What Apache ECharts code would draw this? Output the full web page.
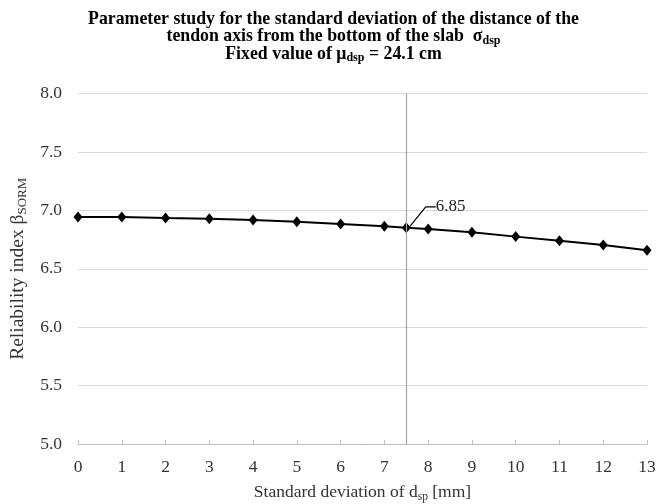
<!DOCTYPE html>
<html>
<head>
<meta charset="utf-8">
<script src="https://cdn.jsdelivr.net/npm/echarts@6/dist/echarts.min.js"></script>
<style>
  html, body { margin: 0; padding: 0; background: #fff; }
  #chart { width: 667px; height: 504px; }
</style>
</head>
<body>
<div id="chart"></div>
<script>
// Standard deviation of d_sp [mm] and the resulting reliability index
const sigmaValues = [0, 1, 2, 3, 4, 5, 6, 7, 7.5, 8, 9, 10, 11, 12, 13];
const betaValues = [6.943, 6.943, 6.934, 6.929, 6.917, 6.903, 6.883, 6.863, 6.85, 6.840, 6.812, 6.775, 6.740, 6.703, 6.658];
// Reference value marked with a vertical line and a callout
const markedSigma = 7.5;
const markedLabel = '6.85';
const yTicks = [5.0, 5.5, 6.0, 6.5, 7.0, 7.5, 8.0];

const serif = '"Liberation Serif", "Times New Roman", serif';
const chart = echarts.init(document.getElementById('chart'));

const points = sigmaValues.map((s, i) => {
  const p = { value: [s, betaValues[i]] };
  if (s === markedSigma) {
    p.label = {
      show: true,
      formatter: markedLabel,
      position: 'right',
      fontFamily: serif,
      fontSize: 17,
      color: '#222'
    };
    p.labelLine = { show: true, length2: 10, lineStyle: { color: '#000', width: 1.2 } };
  }
  return p;
});

chart.setOption({
  animation: false,
  title: {
    left: 'center',
    top: 6,
    text: '{b|Parameter study for the standard deviation of the distance of the}\n' +
          '{b|tendon axis from the bottom of the slab  σ}{s|dsp}\n' +
          '{b|Fixed value of μ}{s|dsp}{b| = 24.1 cm}',
    textStyle: {
      rich: {
        b: { fontFamily: serif, fontWeight: 'bold', fontSize: 17.8, color: '#000', lineHeight: 17.2 },
        s: { fontFamily: serif, fontWeight: 'bold', fontSize: 12, color: '#000', lineHeight: 17.2, padding: [8, 0, 0, 0] }
      }
    }
  },
  grid: { left: 78, right: 20, top: 93.5, bottom: 60, containLabel: false, outerBoundsMode: 'none' },
  xAxis: {
    type: 'value',
    min: 0,
    max: 13,
    interval: 1,
    name: '{t|Standard deviation of d}{s|sp}{t| [mm]}',
    nameLocation: 'middle',
    nameGap: 38,
    nameTextStyle: {
      rich: {
        t: { fontFamily: serif, fontSize: 17.5, color: '#333' },
        s: { fontFamily: serif, fontSize: 11.5, color: '#333', padding: [9, 0, 0, 0] }
      }
    },
    axisLine: { show: true, lineStyle: { color: '#bfbfbf', width: 1 } },
    axisTick: { show: true, inside: true, length: 4, lineStyle: { color: '#bfbfbf' } },
    splitLine: { show: false },
    axisLabel: { fontFamily: serif, fontSize: 17.5, color: '#333', margin: 14 }
  },
  yAxis: {
    type: 'value',
    min: yTicks[0],
    max: yTicks[yTicks.length - 1],
    interval: 0.5,
    name: '{t|Reliability index β}{s|SORM}',
    nameLocation: 'middle',
    nameGap: 41,
    nameRotate: 90,
    nameTextStyle: {
      rich: {
        t: { fontFamily: serif, fontSize: 19.5, color: '#333' },
        s: { fontFamily: serif, fontSize: 13, color: '#333', padding: [9, 0, 0, 0] }
      }
    },
    axisLine: { show: false },
    axisTick: { show: false },
    splitLine: { lineStyle: { color: '#d9d9d9', width: 1 } },
    axisLabel: {
      fontFamily: serif, fontSize: 17.5, color: '#333', margin: 16,
      formatter: v => v.toFixed(1)
    }
  },
  series: [{
    type: 'line',
    data: points,
    symbol: 'diamond',
    symbolSize: [9, 11],
    itemStyle: { color: '#000' },
    lineStyle: { color: '#000', width: 2 },
    labelLayout: { dx: 20, dy: -21 },
    markLine: {
      silent: true,
      symbol: 'none',
      label: { show: false },
      lineStyle: { color: '#a6a6a6', width: 1.2, type: 'solid' },
      data: [{ xAxis: markedSigma }]
    },
    z: 3
  }]
});
</script>
</body>
</html>
